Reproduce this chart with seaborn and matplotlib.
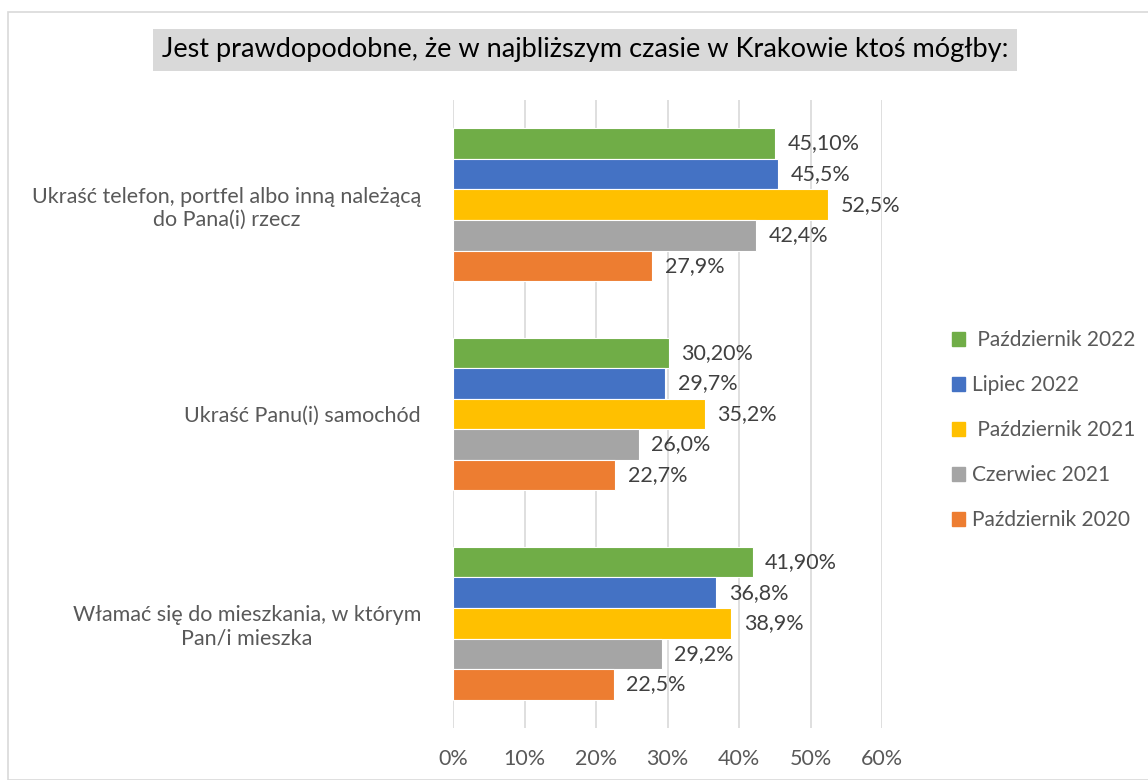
import matplotlib.pyplot as plt
import seaborn as sns
import pandas as pd
from matplotlib.patches import Rectangle

categories = ['Ukraść telefon, portfel albo inną należącą\ndo Pana(i) rzecz',
              'Ukraść Panu(i) samochód',
              'Włamać się do mieszkania, w którym\nPan/i mieszka']
series = ['Październik 2022', 'Lipiec 2022', 'Październik 2021',
          'Czerwiec 2021', 'Październik 2020']
legend_labels = [' Październik 2022', 'Lipiec 2022', ' Październik 2021',
                 'Czerwiec 2021', 'Październik 2020']
paz_2022 = [0.451, 0.302, 0.419]
lip_2022 = [0.455, 0.297, 0.368]
paz_2021 = [0.525, 0.352, 0.389]
cze_2021 = [0.424, 0.260, 0.292]
paz_2020 = [0.279, 0.227, 0.225]
# the first series is printed with two decimals in the source
label_fmt = ['{:.2f}%', '{:.1f}%', '{:.1f}%', '{:.1f}%', '{:.1f}%']
colors = ['#70AD47', '#4472C4', '#FFC000', '#A5A5A5', '#ED7D31']
x_ticks = [0, 0.1, 0.2, 0.3, 0.4, 0.5, 0.6]

values = [paz_2022, lip_2022, paz_2021, cze_2021, paz_2020]
rows = []
for s, vals in zip(series, values):
    for c, v in zip(categories, vals):
        rows.append({'kategoria': c, 'seria': s, 'wartosc': v})
df = pd.DataFrame(rows)

sns.set_style('white')
plt.rcParams['font.family'] = ['Lato', 'DejaVu Sans']
FS = 15.5

fig = plt.figure(figsize=(11.48, 7.80), dpi=100)
fig.patches.append(Rectangle((8 / 1148, 0), 1.0, 1 - 12 / 780, transform=fig.transFigure,
                             fill=False, edgecolor='#d9d9d9', linewidth=1.2))
ax = fig.add_axes([453 / 1148, 52 / 780, (882 - 453) / 1148, (680 - 52) / 780])

sns.barplot(data=df, y='kategoria', x='wartosc', hue='seria', hue_order=series,
            order=categories, palette=colors, saturation=1, orient='h', width=0.73,
            edgecolor='white', linewidth=0.8, ax=ax, legend=False)

for cont, fmt in zip(ax.containers, label_fmt):
    labs = [fmt.format(b.get_width() * 100).replace('.', ',') for b in cont]
    ax.bar_label(cont, labels=labs, padding=9, fontsize=FS, color='#404040')

ax.set_xlim(0, 0.6)
ax.set_xticks(x_ticks)
ax.set_xticklabels([f'{int(round(t * 100))}%' for t in x_ticks])
ax.tick_params(axis='x', labelsize=FS, labelcolor='#595959', length=0, pad=15)
ax.tick_params(axis='y', labelsize=FS, labelcolor='#595959', length=0, pad=23)
for lab in ax.get_yticklabels():
    lab.set_multialignment('center')
ax.set_xlabel('')
ax.set_ylabel('')
ax.grid(axis='x', color='#d9d9d9', linewidth=1.2)
ax.set_axisbelow(True)
for sp in ax.spines.values():
    sp.set_visible(False)

handles = [Rectangle((0, 0), 1, 1, color=c) for c in colors]
fig.legend(handles, legend_labels, loc='center left', bbox_to_anchor=(933 / 1148, 1 - 430 / 780),
           frameon=False, fontsize=15, labelcolor='#595959', handlelength=0.65,
           handleheight=0.65, handletextpad=0.3, labelspacing=1.2)

fig.text(585 / 1148, 1 - 50 / 780,
         'Jest prawdopodobne, że w najbliższym czasie w Krakowie ktoś mógłby:',
         ha='center', va='center', fontsize=19.5, color='#000000',
         bbox=dict(facecolor='#d9d9d9', edgecolor='none', pad=6))

fig.savefig('out.png', dpi=100)
